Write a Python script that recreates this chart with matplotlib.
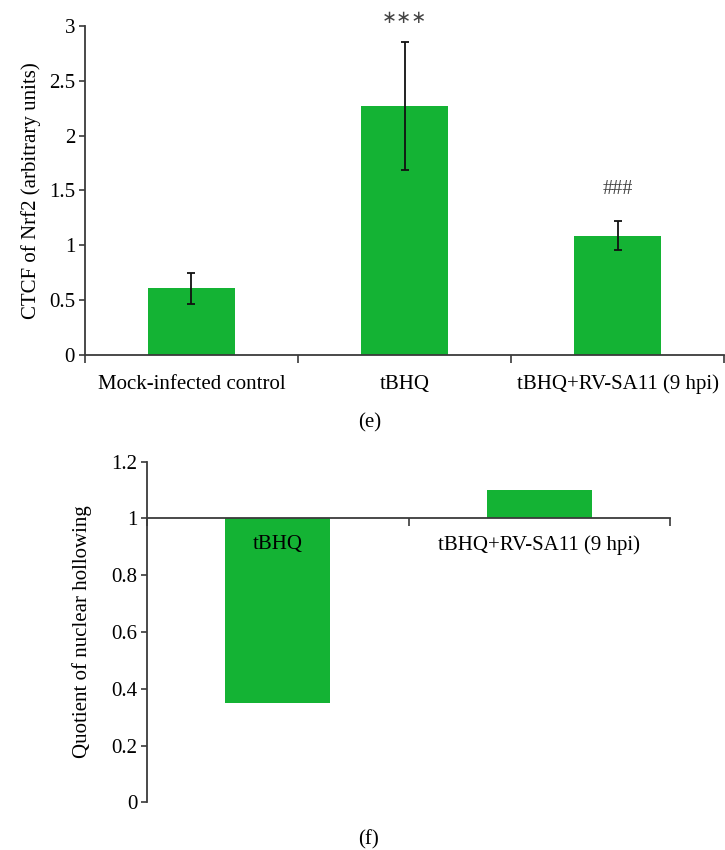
import matplotlib
matplotlib.use("Agg")
import matplotlib.pyplot as plt
import numpy as np

# Panel (e): Nrf2 CTCF
e_categories = ["Mock-infected control", "tBHQ", "tBHQ+RV-SA11 (9 hpi)"]
e_values = [0.61, 2.27, 1.09]
e_errors = [0.14, 0.585, 0.13]
e_marks = ["", "\u2217\u2217\u2217", "###"]
e_yticks = [0, 0.5, 1, 1.5, 2, 2.5, 3]
e_yticklabels = ["0", "0.5", "1", "1.5", "2", "2.5", "3"]

# Panel (f): nuclear hollowing quotient
f_categories = ["tBHQ", "tBHQ+RV-SA11 (9 hpi)"]
f_values = [0.35, 1.10]
f_baseline = 1.0
f_yticks = [0, 0.2, 0.4, 0.6, 0.8, 1, 1.2]
f_yticklabels = ["0", "0.2", "0.4", "0.6", "0.8", "1", "1.2"]

GREEN = "#14b334"
SPINE = "#3a3a3a"
FONT = "Liberation Serif"
FS = 15

plt.rcParams["font.family"] = [FONT, "DejaVu Serif"]

fig = plt.figure(figsize=(7.25, 8.5), dpi=100)

# ---------- panel (e) ----------
ax1 = fig.add_axes([0.117, 0.5820, 0.882, 0.3878])
n = len(e_categories)
x = np.arange(n)
ax1.bar(x, e_values, width=0.41, color=GREEN, zorder=2)
ax1.errorbar(x, e_values, yerr=e_errors, fmt="none", ecolor="#111111",
             elinewidth=1.3, capsize=3, capthick=1.3, zorder=3)
for xi, v, err, m in zip(x, e_values, e_errors, e_marks):
    if m.startswith("\u2217"):
        ax1.text(xi, v + err + 0.215, m, ha="center", va="center",
                 fontsize=13, color="#444444", family="DejaVu Sans")
    elif m:
        ax1.text(xi, v + err + 0.29, m, ha="center", va="center",
                 fontsize=14.5, color="#444444")
ax1.set_xlim(-0.5, n - 0.5)
ax1.set_ylim(0, 3)
ax1.set_yticks(e_yticks)
ax1.set_yticklabels(e_yticklabels, fontsize=FS)
ax1.set_xticks(np.arange(n + 1) - 0.5)
ax1.set_xticklabels([])
ax1.set_xticks(x, minor=True)
ax1.set_xticklabels(e_categories, minor=True, fontsize=FS)
ax1.tick_params(axis="x", which="minor", length=0, pad=14)
ax1.tick_params(axis="x", which="major", length=6, width=1.2, color=SPINE, direction="out")
ax1.tick_params(axis="y", length=4, width=1.2, color=SPINE, direction="out", pad=3)
for s in ["top", "right"]:
    ax1.spines[s].set_visible(False)
for s in ["left", "bottom"]:
    ax1.spines[s].set_color(SPINE)
    ax1.spines[s].set_linewidth(1.3)
ax1.set_ylabel("CTCF of Nrf2 (arbitrary units)", fontsize=FS, labelpad=6)
fig.text(0.51, 1 - 423 / 850, "(e)", ha="center", va="center", fontsize=FS)

# ---------- panel (f) ----------
ax2 = fig.add_axes([0.2028, 0.0561, 0.7214, 0.4007])
m = len(f_categories)
xf = np.arange(m)
heights = [v - f_baseline for v in f_values]
ax2.bar(xf, heights, bottom=f_baseline, width=0.40, color=GREEN, zorder=1)
ax2.set_axisbelow(False)
ax2.set_xlim(-0.5, m - 0.5)
ax2.set_ylim(0, 1.2)
ax2.set_yticks(f_yticks)
ax2.set_yticklabels(f_yticklabels, fontsize=FS)
ax2.spines["bottom"].set_position(("data", f_baseline))
ax2.set_xticks(np.arange(m + 1) - 0.5)
ax2.set_xticklabels([])
ax2.set_xticks(xf, minor=True)
ax2.set_xticklabels(f_categories, minor=True, fontsize=FS)
ax2.tick_params(axis="x", which="minor", length=0, pad=12)
ax2.tick_params(axis="x", which="major", length=6, width=1.2, color=SPINE, direction="out")
ax2.tick_params(axis="y", length=4, width=1.2, color=SPINE, direction="out", pad=3)
for s in ["top", "right"]:
    ax2.spines[s].set_visible(False)
for s in ["left", "bottom"]:
    ax2.spines[s].set_color(SPINE)
    ax2.spines[s].set_linewidth(1.3)
    ax2.spines[s].set_zorder(3)
ax2.set_ylabel("Quotient of nuclear hollowing", fontsize=FS, labelpad=14)
fig.text(0.508, 1 - 840 / 850, "(f)", ha="center", va="center", fontsize=FS)

fig.savefig("out.png", dpi=100)
